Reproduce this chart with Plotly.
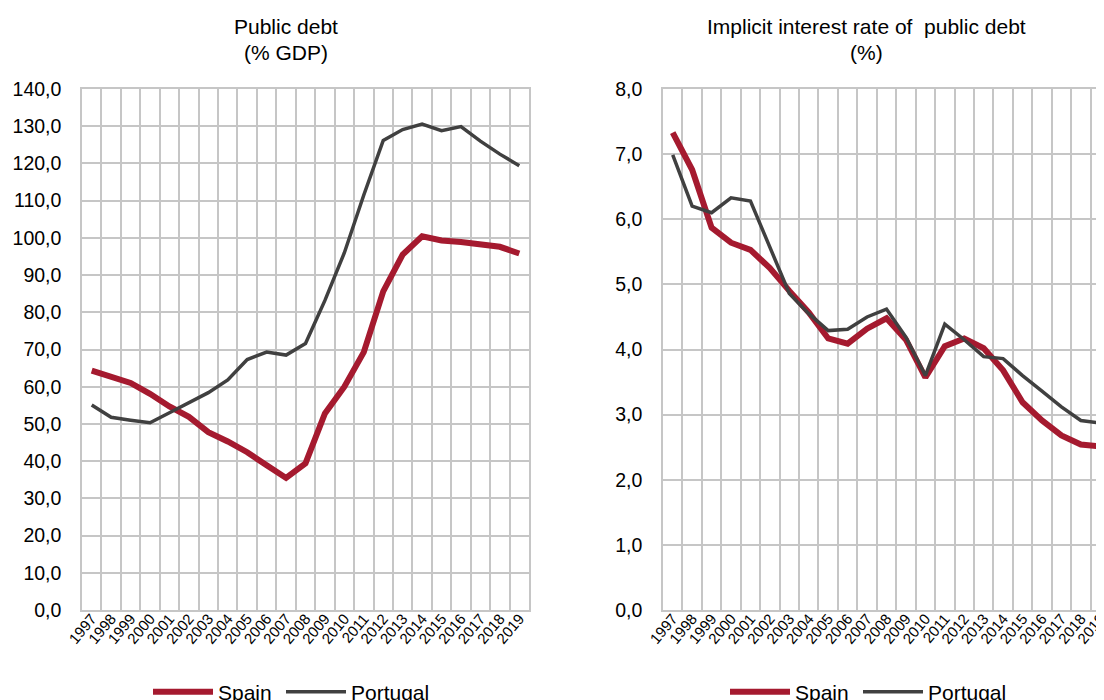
import plotly.graph_objects as go

years = ["1997", "1998", "1999", "2000", "2001", "2002", "2003", "2004", "2005", "2006", "2007", "2008",
         "2009", "2010", "2011", "2012", "2013", "2014", "2015", "2016", "2017", "2018", "2019"]

debt_spain = [64.3, 62.5, 61.0, 58.1, 54.7, 51.9, 47.8, 45.3, 42.4, 38.9, 35.5, 39.4,
              52.8, 60.0, 69.3, 85.6, 95.5, 100.4, 99.3, 98.9, 98.4, 97.6, 95.8]
debt_portugal = [55.1, 51.8, 51.0, 50.3, 53.0, 55.8, 58.4, 61.8, 67.3, 69.3, 68.5, 71.6,
                 83.2, 96.0, 111.5, 126.2, 129.1, 130.6, 128.8, 129.9, 126.0, 122.5, 119.4]
rate_spain = [7.33, 6.76, 5.87, 5.64, 5.53, 5.25, 4.90, 4.57, 4.17, 4.09, 4.32, 4.48,
              4.15, 3.57, 4.05, 4.17, 4.02, 3.68, 3.19, 2.91, 2.68, 2.54, 2.51]
rate_portugal = [6.99, 6.20, 6.10, 6.33, 6.28, 5.58, 4.86, 4.55, 4.29, 4.31, 4.50, 4.62,
                 4.19, 3.60, 4.39, 4.15, 3.89, 3.86, 3.60, 3.36, 3.12, 2.91, 2.87]

title_left = ["Public debt", "(% GDP)"]
title_right = ["Implicit interest rate of\u00a0 public debt", "(%)"]

SPAIN = "#A51A2F"
PORT = "#404040"
GRID = "#C6C6C6"
FONT = "Liberation Sans, Arial, sans-serif"

# the page body adds an 8px margin, so the figure is drawn at (8, 8) in the window
OFF = 8
W, H = 1104 - OFF, 700 - OFF


def X(px):
    return (px - OFF) / W


def Y(py):
    return 1 - (py - OFF) / H


fig = go.Figure()
fig.add_trace(go.Scatter(x=years, y=debt_spain, name="Spain", mode="lines", legendwidth=58,
                         line=dict(color=SPAIN, width=6), xaxis="x", yaxis="y", legend="legend"))
fig.add_trace(go.Scatter(x=years, y=debt_portugal, name="Portugal", mode="lines", legendwidth=120,
                         line=dict(color=PORT, width=3.5), xaxis="x", yaxis="y", legend="legend"))
fig.add_trace(go.Scatter(x=years, y=rate_spain, name="Spain", mode="lines", legendwidth=58,
                         line=dict(color=SPAIN, width=6), xaxis="x2", yaxis="y2", legend="legend2"))
fig.add_trace(go.Scatter(x=years, y=rate_portugal, name="Portugal", mode="lines", legendwidth=120,
                         line=dict(color=PORT, width=3.5), xaxis="x2", yaxis="y2", legend="legend2"))

ydom = [Y(610), Y(89)]

xcommon = dict(type="category", tickson="boundaries", showgrid=True, gridcolor=GRID, gridwidth=1.5,
               showline=True, linecolor=GRID, linewidth=2, mirror=True, ticks="", tickangle=-50,
               tickfont=dict(size=15, color="#000000", family=FONT), zeroline=False,
               ticklabelstandoff=-8)
ycommon = dict(showgrid=True, gridcolor=GRID, gridwidth=1.5, showline=True, linecolor=GRID,
               linewidth=1.5, mirror=True, ticks="", tickformat=".1f", zeroline=False,
               tickfont=dict(size=19.5, color="#000000", family=FONT), ticklabelstandoff=15)

legcommon = dict(orientation="h", xanchor="left", y=Y(692), yanchor="middle",
                 font=dict(size=21, family=FONT, color="#000000"), itemwidth=60,
                 bgcolor="rgba(0,0,0,0)", traceorder="normal")

fig.update_layout(
    width=W, height=H,
    margin=dict(l=0, r=0, t=0, b=0, autoexpand=False),
    paper_bgcolor="white", plot_bgcolor="white",
    separators=",.",
    font=dict(family=FONT, size=21, color="#000000"),
    xaxis=dict(xcommon, domain=[X(82), X(529)], range=[-0.5, 22.5], anchor="y"),
    yaxis=dict(ycommon, domain=ydom, range=[0, 140], dtick=10, tick0=0, anchor="x"),
    xaxis2=dict(xcommon, domain=[X(663), 1.0], range=[-0.5, 22.5 - 6 / 19.44], anchor="y2"),
    yaxis2=dict(ycommon, domain=ydom, range=[0, 8], dtick=1, tick0=0, anchor="x2"),
    legend=dict(legcommon, x=X(155 - 7)),
    legend2=dict(legcommon, x=X(732 - 7)),
    showlegend=True,
)

anns = []
for i, t in enumerate(title_left):
    anns.append(dict(text=t, x=X(286), y=Y(27 + 25 * i), xref="paper", yref="paper",
                     xanchor="center", yanchor="middle", showarrow=False,
                     font=dict(size=21, family=FONT, color="#000000")))
for i, t in enumerate(title_right):
    anns.append(dict(text=t, x=X(866), y=Y(27 + 25 * i), xref="paper", yref="paper",
                     xanchor="center", yanchor="middle", showarrow=False,
                     font=dict(size=21, family=FONT, color="#000000")))
fig.update_layout(annotations=anns)

fig.write_html("out.html")
